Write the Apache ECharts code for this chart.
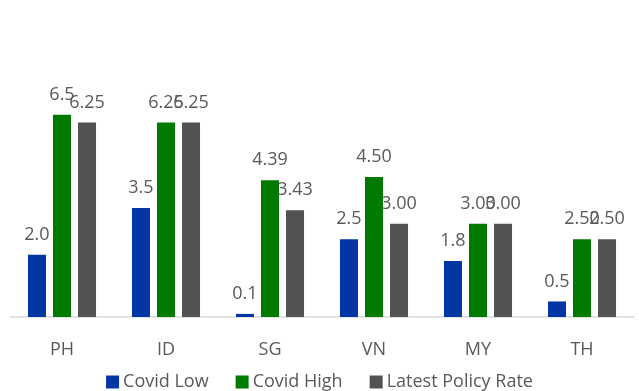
<!DOCTYPE html>
<html>
<head>
<meta charset="utf-8">
<script src="https://cdn.jsdelivr.net/npm/echarts@6/dist/echarts.min.js"></script>
<style>
  html, body { margin: 0; padding: 0; background: #fff; }
  #chart { width: 639px; height: 391px; }
</style>
</head>
<body>
<div id="chart"></div>
<script>
const categories = ['PH', 'ID', 'SG', 'VN', 'MY', 'TH'];
const covidLow = [2.0, 3.5, 0.1, 2.5, 1.8, 0.5];
const covidLowLabels = ['2.0', '3.5', '0.1', '2.5', '1.8', '0.5'];
const covidHigh = [6.5, 6.25, 4.39, 4.5, 3.0, 2.5];
const covidHighLabels = ['6.5', '6.25', '4.39', '4.50', '3.00', '2.50'];
const policyRate = [6.25, 6.25, 3.43, 3.0, 3.0, 2.5];
const policyRateLabels = ['6.25', '6.25', '3.43', '3.00', '3.00', '2.50'];

const FONT = 'Open Sans';

// one bar series
function makeSeries(name, data, labels, color) {
    return {
        name: name,
        type: 'bar',
        data: data,
        barWidth: 18,
        barGap: '39%',
        itemStyle: { color: color },
        label: {
            show: true,
            position: 'top',
            distance: 11,
            color: '#595959',
            fontSize: 18,
            fontFamily: FONT,
            formatter: (p) => labels[p.dataIndex]
        }
    };
}

const chart = echarts.init(document.getElementById('chart'));
chart.setOption({
    animation: false,
    grid: { left: 10, right: 5, top: 68, bottom: 74 },
    legend: {
        bottom: -5,
        left: 'center',
        itemWidth: 13,
        itemHeight: 13,
        itemGap: 27,
        icon: 'rect',
        textStyle: { color: '#595959', fontSize: 18, fontFamily: FONT, padding: [0, 0, 0, -1] },
        data: ['Covid Low', 'Covid High', 'Latest Policy Rate']
    },
    xAxis: {
        type: 'category',
        data: categories,
        axisLine: { lineStyle: { color: '#d9d9d9', width: 1.5 } },
        axisTick: { show: false },
        axisLabel: { color: '#595959', fontSize: 18, fontFamily: FONT, margin: 24 }
    },
    yAxis: {
        type: 'value',
        min: 0,
        max: 8,
        show: false,
        splitLine: { show: false }
    },
    series: [
        makeSeries('Covid Low', covidLow, covidLowLabels, '#0336a4'),
        makeSeries('Covid High', covidHigh, covidHighLabels, '#007a00'),
        makeSeries('Latest Policy Rate', policyRate, policyRateLabels, '#515254')
    ]
});
</script>
</body>
</html>
